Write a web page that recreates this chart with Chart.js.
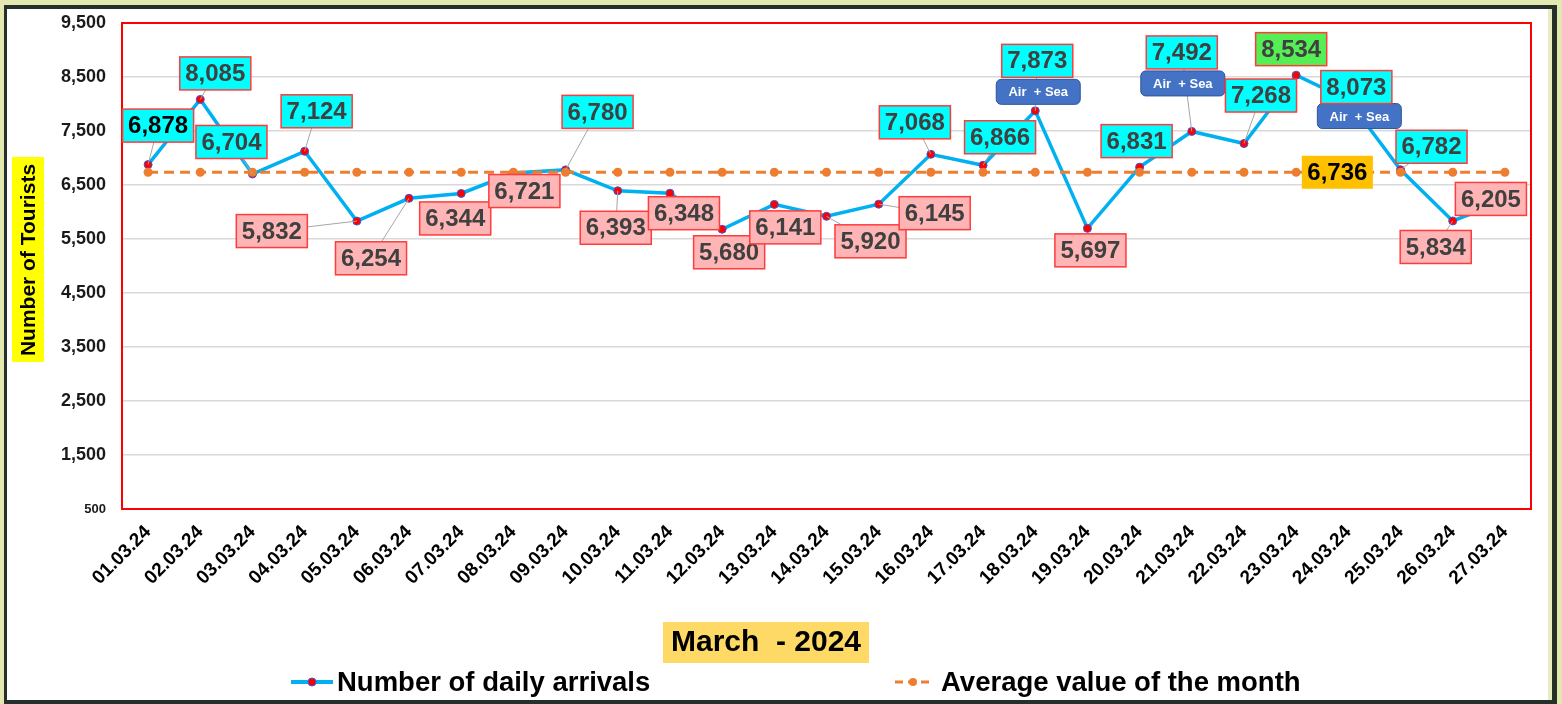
<!DOCTYPE html>
<html lang="en">
<head>
  <meta charset="UTF-8">
  <title>Daily tourist arrivals - March 2024</title>
  <script src="https://cdn.jsdelivr.net/npm/chart.js"></script>
  <style>
    html, body { margin: 0; padding: 0; background: #e3e8b0; }
    canvas { display: block; }
  </style>
</head>
<body>
  <canvas id="arrivalsChart" width="1562" height="704"></canvas>

  <script>
const days = [
  "01.03.24", "02.03.24", "03.03.24", "04.03.24", "05.03.24", "06.03.24", "07.03.24",
  "08.03.24", "09.03.24", "10.03.24", "11.03.24", "12.03.24", "13.03.24", "14.03.24",
  "15.03.24", "16.03.24", "17.03.24", "18.03.24", "19.03.24", "20.03.24", "21.03.24",
  "22.03.24", "23.03.24", "24.03.24", "25.03.24", "26.03.24", "27.03.24"
];
const arrivals = [
  6878, 8085, 6704, 7124, 5832, 6254, 6344, 6721, 6780, 6393, 6348, 5680, 6141, 5920,
  6145, 7068, 6866, 7873, 5697, 6831, 7492, 7268, 8534, 8073, 6782, 5834, 6205
];
const monthAverage = [
  6736, 6736, 6736, 6736, 6736, 6736, 6736, 6736, 6736, 6736, 6736, 6736, 6736, 6736,
  6736, 6736, 6736, 6736, 6736, 6736, 6736, 6736, 6736, 6736, 6736, 6736, 6736
];
const yMin = 500, yMax = 9500, yStep = 1000;
const airSeaDays = ["18.03.24", "21.03.24", "24.03.24"];

// label look + placement (pixels, relative to the point)
const labelKind = ["k","c","c","c","p","p","p","p","c","p","p","p","p","p",
                   "p","c","c","c","p","c","c","c","g","c","c","p","p"];
const labelShift = [
  [10,-39],[15,-26],[-21,-32],[12,-40],[-85,10],[-38,60],[-6,25],[11,18],[32,-58],
  [-2,37],[14,20],[7,23],[11,23],[44,25],[56,9],[-16,-32],[17,-28],[2,-50],[3,22],
  [-3,-26],[-10,-79],[17,-48],[-5,-26],[8,-13],[31,-23],[-17,26],[-14,-2]
];
const badgeShift = [[3,-19],[-9,-48],[11,16]];
const kinds = {
  k: { bg: "#00ffff", ink: "#000000" },
  c: { bg: "#00ffff", ink: "#404040" },
  p: { bg: "#ffb5b5", ink: "#404040" },
  g: { bg: "#55ef55", ink: "#404040" }
};
const FONT = "'Liberation Sans', Arial, sans-serif";
const fmt = v => v.toLocaleString("en-US");

const frame = {
  id: "frame",
  beforeDraw(chart) {
    const c = chart.ctx;
    c.save();
    c.fillStyle = "#e3e8b0";
    c.fillRect(0, 0, 1562, 704);
    c.fillStyle = "#26302a";
    c.fillRect(4, 5, 1553, 699);
    c.fillStyle = "#ffffff";
    c.fillRect(7, 9, 1541, 691);
    c.fillStyle = "#e8ecc0";
    c.fillRect(1548, 9, 4, 691);
    c.restore();
  }
};

const plotBorder = {
  id: "plotBorder",
  beforeDatasetsDraw(chart) {
    const a = chart.chartArea, c = chart.ctx;
    c.save();
    c.strokeStyle = "#ff0000";
    c.lineWidth = 2;
    c.strokeRect(a.left, a.top, a.right - a.left, a.bottom - a.top);
    c.restore();
  }
};

function box(c, cx, cy, text, bg, ink, border) {
  c.font = "bold 24px " + FONT;
  const w = c.measureText(text).width + 11, h = 33;
  c.fillStyle = bg;
  c.fillRect(cx - w / 2, cy - h / 2, w, h);
  if (border) {
    c.strokeStyle = "#ff3b3b";
    c.lineWidth = 1.5;
    c.strokeRect(cx - w / 2, cy - h / 2, w, h);
  }
  c.fillStyle = ink;
  c.textAlign = "center";
  c.textBaseline = "middle";
  c.fillText(text, cx, cy + 1);
}

const valueLabels = {
  id: "valueLabels",
  afterDatasetsDraw(chart) {
    const c = chart.ctx;
    const pts = chart.getDatasetMeta(1).data;
    c.save();
    // leader lines
    c.strokeStyle = "#a6a6a6";
    c.lineWidth = 1;
    pts.forEach((p, i) => {
      const [dx, dy] = labelShift[i];
      if (Math.hypot(dx, dy) < 28) return;
      c.beginPath();
      c.moveTo(p.x, p.y);
      c.lineTo(p.x + dx, p.y + dy);
      c.stroke();
    });
    // Air + Sea badges
    airSeaDays.forEach((d, k) => {
      const p = pts[days.indexOf(d)];
      const cx = p.x + badgeShift[k][0], cy = p.y + badgeShift[k][1];
      const w = 84, h = 25;
      c.beginPath();
      c.roundRect(cx - w / 2, cy - h / 2, w, h, 5);
      c.fillStyle = "#4472c4";
      c.fill();
      c.strokeStyle = "#2f5597";
      c.lineWidth = 1;
      c.stroke();
      c.fillStyle = "#ffffff";
      c.font = "bold 13px " + FONT;
      c.textAlign = "center";
      c.textBaseline = "middle";
      c.fillText("Air  + Sea", cx, cy + 1);
    });
    // value boxes
    pts.forEach((p, i) => {
      const k = kinds[labelKind[i]];
      box(c, p.x + labelShift[i][0], p.y + labelShift[i][1], fmt(arrivals[i]), k.bg, k.ink, true);
    });
    // average label
    const a = chart.getDatasetMeta(0).data[23];
    box(c, a.x - 11, a.y, fmt(monthAverage[23]), "#ffc000", "#000000", false);
    c.restore();
  }
};

const extras = {
  id: "extras",
  afterDraw(chart) {
    const c = chart.ctx;
    c.save();
    // y title
    c.fillStyle = "#ffff00";
    c.fillRect(12, 157, 32, 205);
    c.translate(28, 260);
    c.rotate(-Math.PI / 2);
    c.fillStyle = "#000000";
    c.font = "bold 21px " + FONT;
    c.textAlign = "center";
    c.textBaseline = "middle";
    c.fillText("Number of Tourists", 0, 1);
    c.setTransform(1, 0, 0, 1, 0, 0);
    // x title
    c.fillStyle = "#ffd966";
    c.fillRect(663, 622, 206, 41);
    c.fillStyle = "#000000";
    c.font = "bold 30px " + FONT;
    c.fillText("March  - 2024", 766, 643);
    // legend
    const ly = 682;
    c.strokeStyle = "#00b0f0";
    c.lineWidth = 4;
    c.beginPath(); c.moveTo(291, ly); c.lineTo(333, ly); c.stroke();
    c.beginPath(); c.arc(312, ly, 4, 0, Math.PI * 2);
    c.fillStyle = "#ff0000"; c.fill();
    c.strokeStyle = "#3a5bd6"; c.lineWidth = 1; c.stroke();
    c.strokeStyle = "#ed7d31";
    c.lineWidth = 3;
    c.setLineDash([8, 5]);
    c.beginPath(); c.moveTo(895, ly); c.lineTo(932, ly); c.stroke();
    c.setLineDash([]);
    c.beginPath(); c.arc(913, ly, 4, 0, Math.PI * 2);
    c.fillStyle = "#ed7d31"; c.fill();
    c.fillStyle = "#000000";
    c.font = "bold 27.5px " + FONT;
    c.textAlign = "left";
    c.fillText("Number of daily arrivals", 337, ly + 1);
    c.fillText("Average value of the month", 941, ly + 1);
    c.restore();
  }
};

new Chart(document.getElementById("arrivalsChart"), {
  type: "line",
  data: {
    labels: days,
    datasets: [
      {
        label: "Average value of the month",
        data: monthAverage,
        order: 0,
        borderColor: "#ed7d31",
        borderWidth: 3,
        borderDash: [10, 6],
        pointRadius: 4.5,
        pointBackgroundColor: "#ed7d31",
        pointBorderColor: "#ed7d31",
        pointBorderWidth: 0
      },
      {
        label: "Number of daily arrivals",
        data: arrivals,
        order: 1,
        borderColor: "#00b0f0",
        borderWidth: 3.5,
        pointRadius: 4,
        pointBackgroundColor: "#ff0000",
        pointBorderColor: "#3a5bd6",
        pointBorderWidth: 1
      }
    ]
  },
  options: {
    responsive: false,
    animation: false,
    devicePixelRatio: 1,
    layout: { padding: { top: 23, right: 31, left: 0, bottom: 0 } },
    plugins: {
      legend: { display: false },
      tooltip: { enabled: false }
    },
    scales: {
      x: {
        offset: true,
        grid: { display: false, drawTicks: false },
        border: { display: false },
        ticks: {
          autoSkip: false,
          minRotation: 45,
          maxRotation: 45,
          padding: 12,
          color: "#000000",
          font: { family: FONT, weight: "bold", size: 19 }
        },
        afterFit(scale) { scale.height = 195; }
      },
      y: {
        min: yMin,
        max: yMax,
        grid: { color: "#d9d9d9", lineWidth: 1.5, drawTicks: false },
        border: { display: false },
        ticks: {
          stepSize: yStep,
          padding: 16,
          color: "#1a1a1a",
          callback: v => fmt(v),
          font: ctx => ({
            family: FONT,
            weight: "bold",
            size: ctx.tick && ctx.tick.value === yMin ? 13 : 18
          })
        },
        afterFit(scale) {
          scale.width = 122;
          scale.paddingTop = 0;
          scale.paddingBottom = 0;
        }
      }
    }
  },
  plugins: [frame, plotBorder, valueLabels, extras]
});
  </script>
</body>
</html>
